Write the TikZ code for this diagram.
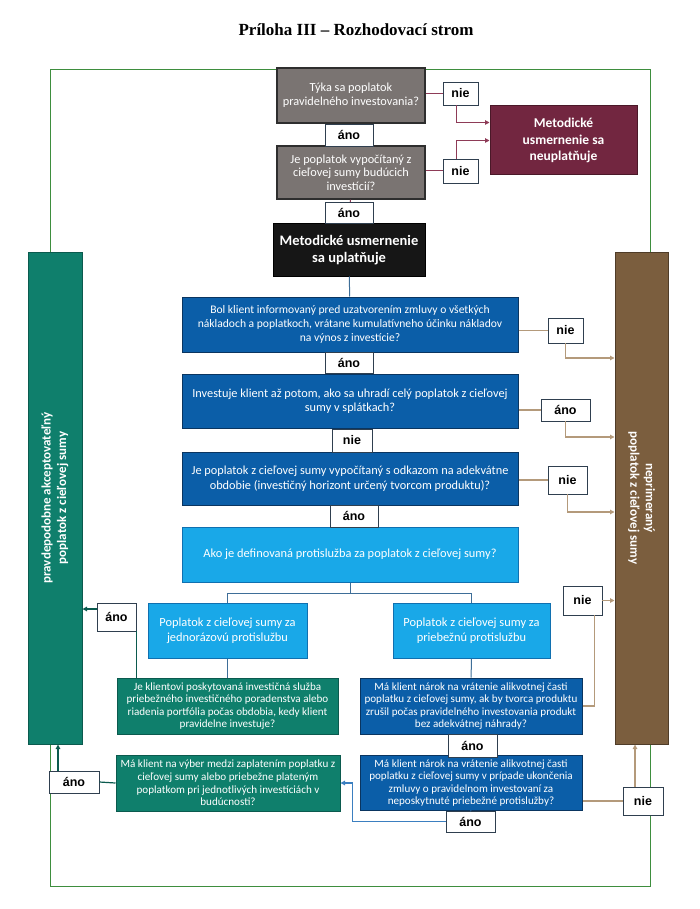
\documentclass[tikz,border=0pt]{standalone}
\usepackage{fontspec}
\setmainfont{Carlito}
\newfontfamily\labelfont{Liberation Sans}
\newfontfamily\titlefont{Liberation Serif}
\usepackage{tikz}
\usetikzlibrary{arrows.meta}

\definecolor{framegreen}{HTML}{3E8E3E}
\definecolor{boxgray}{HTML}{7A7472}
\definecolor{boxgrayline}{HTML}{2E2E2E}
\definecolor{applyblack}{HTML}{161616}
\definecolor{maroonfill}{HTML}{722640}
\definecolor{maroonline}{HTML}{4A1828}
\definecolor{maroonconn}{HTML}{8E3B57}
\definecolor{darkblue}{HTML}{0B5EA8}
\definecolor{darkblueline}{HTML}{0A3560}
\definecolor{lightblue}{HTML}{19A8E8}
\definecolor{lightblueline}{HTML}{1070B0}
\definecolor{tealfill}{HTML}{0F7F6C}
\definecolor{tealline}{HTML}{0B5A4E}
\definecolor{brownfill}{HTML}{7B5E3E}
\definecolor{brownline}{HTML}{4F3C28}
\definecolor{tanconn}{HTML}{B49A7B}
\definecolor{treeconn}{HTML}{3E6E98}
\definecolor{blueconn}{HTML}{3B7FC0}
\definecolor{answerline}{HTML}{2F3F4F}

\tikzset{
  box/.style={align=center, inner sep=0pt, text=white, line width=1pt,
    font=\fontsize{11.1}{12.6}\selectfont},
  graybox/.style={box, draw=boxgrayline, fill=boxgray, line width=1.4pt,
    minimum width=148pt, font=\fontsize{12.3}{14}\selectfont},
  darkbox/.style={box, draw=darkblueline, fill=darkblue},
  lightbox/.style={box, draw=lightblueline, fill=lightblue,
    font=\fontsize{12.4}{14.5}\selectfont},
  greenbox/.style={box, draw=tealline, fill=tealfill},
  bigtext/.style={font=\fontsize{12.3}{14.5}\selectfont},
  barbox/.style={box, minimum width=54pt, minimum height=492pt},
  bartext/.style={text=white, align=center, font=\bfseries\fontsize{13}{15.5}\selectfont},
  answer/.style={draw=answerline, fill=white, line width=0.8pt, inner sep=0pt,
    font=\labelfont\bfseries\fontsize{12.5}{14}\selectfont},
  arr/.style={-{Triangle[length=4.5pt,width=4.5pt]}},
  maroonline/.style={maroonconn, line width=1pt},
  tanline/.style={tanconn, line width=1.2pt},
  treeline/.style={treeconn, line width=1pt},
  greenline/.style={tealline, line width=1.2pt},
  blueline/.style={blueconn, line width=1.2pt},
}

\begin{document}
\begin{tikzpicture}[x=1pt,y=-1pt]
  \useasboundingbox (0,0) rectangle (700,909);
  \node[font=\titlefont\bfseries\fontsize{17}{19}\selectfont] (title) at (356,30) {Príloha III – Rozhodovací strom};
  \draw[framegreen, line width=0.8pt] (50,69) rectangle (650,886);

  \node[barbox, draw=tealline, fill=tealfill] (akc) at (55,498) {};
  \node[bartext, rotate=90] (akctext) at (akc.center) {pravdepodobne akceptovateľný\\poplatok z cieľovej sumy};
  \node[barbox, draw=brownline, fill=brownfill, minimum width=53pt] (nep) at (641.5,498) {};
  \node[bartext, rotate=-90] (neptext) at (nep.center) {neprimeraný\\poplatok z cieľovej sumy};

  \node[graybox, minimum height=55pt] (regular) at (351,95.5) {Týka sa poplatok\\pravidelného investovania?};
  \node[graybox, minimum height=53pt, font=\fontsize{12.3}{13.4}\selectfont] (target) at (351,172.5) {Je poplatok vypočítaný z\\cieľovej sumy budúcich\\investícií?};
  \node[box, draw=black, fill=applyblack, minimum width=152pt, minimum height=52pt,
    font=\bfseries\fontsize{14.5}{17}\selectfont] (applies) at (349,250) {Metodické usmernenie\\sa uplatňuje};
  \node[box, draw=maroonline, fill=maroonfill, minimum width=147pt, minimum height=69pt,
    font=\bfseries\fontsize{13.5}{16.5}\selectfont] (notapply) at (563.5,140.5) {Metodické\\usmernenie sa\\neuplatňuje};

  \node[darkbox, minimum width=336pt, minimum height=55pt, font=\fontsize{11.6}{14.2}\selectfont] (qone) at (350,324.5) {Bol klient informovaný pred uzatvorením zmluvy o všetkých\\nákladoch a poplatkoch, vrátane kumulatívneho účinku nákladov\\na výnos z investície?};
  \node[darkbox, bigtext, minimum width=336pt, minimum height=54pt] (qtwo) at (350,401) {Investuje klient až potom, ako sa uhradí celý poplatok z cieľovej\\sumy v splátkach?};
  \node[darkbox, bigtext, minimum width=336pt, minimum height=53pt] (qthree) at (350,478.5) {Je poplatok z cieľovej sumy vypočítaný s odkazom na adekvátne\\obdobie (investičný horizont určený tvorcom produktu)?};
  \node[lightbox, minimum width=336pt, minimum height=55pt] (qfour) at (350,554.5) {Ako je definovaná protislužba za poplatok z cieľovej sumy?};

  \node[lightbox, minimum width=159pt, minimum height=55pt] (lone) at (227.5,630.5) {Poplatok z cieľovej sumy za\\jednorázovú protislužbu};
  \node[lightbox, minimum width=157pt, minimum height=55pt] (rone) at (471.5,630.5) {Poplatok z cieľovej sumy za\\priebežnú protislužbu};
  \node[greenbox, minimum width=221pt, minimum height=56pt] (ltwo) at (227.5,706) {Je klientovi poskytovaná investičná služba\\priebežného investičného poradenstva alebo\\riadenia portfólia počas obdobia, kedy klient\\pravidelne investuje?};
  \node[darkbox, minimum width=222pt, minimum height=56pt] (rtwo) at (471,706) {Má klient nárok na vrátenie alikvotnej časti\\poplatku z cieľovej sumy, ak by tvorca produktu\\zrušil počas pravidelného investovania produkt\\bez adekvátnej náhrady?};
  \node[darkbox, minimum width=222pt, minimum height=55pt] (rthree) at (471,783) {Má klient nárok na vrátenie alikvotnej časti\\poplatku z cieľovej sumy v prípade ukončenia\\zmluvy o pravidelnom investovaní za\\neposkytnuté priebežné protislužby?};
  \node[greenbox, minimum width=224pt, minimum height=56pt] (lthree) at (228,783) {Má klient na výber medzi zaplatením poplatku z\\cieľovej sumy alebo priebežne plateným\\poplatkom pri jednotlivých investíciách v\\budúcnosti?};

  \draw[maroonline] (regular) -- (target);
  \draw[maroonline] (target) -- (applies);
  \draw[treeline] (applies) -- (qone);
  \draw[treeline] (qone) -- (qtwo);
  \draw[treeline] (qtwo) -- (qthree);
  \draw[treeline] (qthree) -- (qfour);
  \draw[treeline] (qfour.south) -- ++(0,11) coordinate (split);
  \draw[treeline] (lone.north) |- (split) -| (rone.north);
  \draw[treeline] (lone) -- (ltwo);
  \draw[treeline] (rone) -- (rtwo);
  \draw[treeline] (rtwo) -- (rthree);

  \node[answer, minimum width=48pt, minimum height=22pt] (anoone) at (349,135) {áno};
  \node[answer, minimum width=48pt, minimum height=21pt] (anotwo) at (349,212.5) {áno};
  \node[answer, minimum width=35pt, minimum height=23pt] (nieone) at (460.5,93.5) {nie};
  \node[answer, minimum width=35pt, minimum height=24pt] (nietwo) at (460.5,171) {nie};
  \node[answer, minimum width=48pt, minimum height=21pt] (anothree) at (349,363) {áno};
  \node[answer, minimum width=40pt, minimum height=23pt] (niethree) at (352,440.5) {nie};
  \node[answer, minimum width=48pt, minimum height=22pt] (anofour) at (354,516) {áno};
  \node[answer, minimum width=35pt, minimum height=25pt] (nieA) at (565.5,330.5) {nie};
  \node[answer, minimum width=49pt, minimum height=22pt] (anoB) at (565.5,410) {áno};
  \node[answer, minimum width=39pt, minimum height=28pt] (nieC) at (567.5,480) {nie};
  \node[answer, minimum width=39pt, minimum height=29pt] (nieD) at (582.5,600.5) {nie};
  \node[answer, minimum width=40pt, minimum height=28pt] (nieE) at (643,801) {nie};
  \node[answer, minimum width=39pt, minimum height=28pt] (anoU) at (116.5,617) {áno};
  \node[answer, minimum width=49pt, minimum height=23pt] (anoR) at (472.5,745.5) {áno};
  \node[answer, minimum width=49pt, minimum height=21pt] (anoS) at (470.5,821.5) {áno};
  \node[answer, minimum width=50pt, minimum height=22pt] (anoT) at (74,782) {áno};

  \draw[maroonline] (regular.east |- nieone.west) -- (nieone.west);
  \draw[maroonline, arr] ([xshift=-4pt]nieone.south) |- ([yshift=18pt]notapply.west);
  \draw[maroonline] (target.east |- nietwo.west) -- (nietwo.west);
  \draw[maroonline, arr] ([xshift=-4pt]nietwo.north) |- (notapply.west);

  \draw[tanline] (nieA.west -| qone.east) -- (nieA.west);
  \draw[tanline, arr] (nieA.south) |- ([yshift=140pt]nep.west);
  \draw[tanline] (anoB.west -| qtwo.east) -- (anoB.west);
  \draw[tanline, arr] (anoB.south) |- ([yshift=61pt]nep.west);
  \draw[tanline] (nieC.west -| qthree.east) -- (nieC.west);
  \draw[tanline, arr] (nieC.south) |- ([yshift=-14pt]nep.west);
  \draw[tanline] (rtwo.east) -| ([xshift=12pt]nieD.south);
  \draw[tanline, arr] (nieD.east) -- (nieD.east -| nep.west);
  \draw[tanline] (nieE.west -| rthree.east) -- (nieE.west);
  \draw[tanline, arr] ([xshift=-8pt]nieE.north) -- ([xshift=-8pt]nieE.north |- nep.south);

  \draw[greenline] (ltwo.north -| anoU.south east) -- (anoU.south east);
  \draw[greenline, arr] ([yshift=8pt]anoU.west) -- ([yshift=8pt]anoU.west -| akc.east);
  \draw[greenline] (lthree.west) -- (anoT.east);
  \draw[greenline, arr] ([xshift=-16pt]anoT.north) -- ([xshift=-16pt]anoT.north |- akc.south);
  \draw[blueline] (rthree.south) -- (anoS.north);
  \draw[blueline, arr] (anoS.west) -| ([xshift=12pt]lthree.east) -- (lthree.east);
\end{tikzpicture}
\end{document}
